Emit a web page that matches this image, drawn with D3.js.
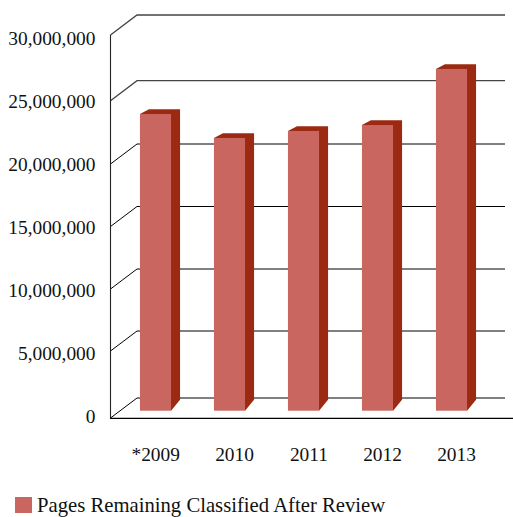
<!DOCTYPE html>
<html><head><meta charset="utf-8">
<script src="https://cdn.jsdelivr.net/npm/d3@7"></script>
<style>html,body{margin:0;padding:0;background:#fff}svg{display:block}text{font-family:"Liberation Serif",serif;fill:#111}</style>
</head><body><svg id="c" width="513" height="517"></svg>
<script>
const categories = ["*2009","2010","2011","2012","2013"];
const values = [23370000,21480000,22030000,22500000,26860000];
const yTicks = [0,5000000,10000000,15000000,20000000,25000000,30000000];
const seriesName = "Pages Remaining Classified After Review";

const svg = d3.select("#c");
const x = d3.scaleBand().domain(categories).range([118.5,488.5]).paddingInner(0.58).paddingOuter(0.29);
const y = d3.scaleLinear().domain(yTicks).range([418,351,289,226.5,164,100.7,35]);
const yLabel = d3.scaleLinear().domain([0,30000000]).range([423,44.5]);
const backDx = 26.5, backDy = 20, barLift = 7.3;
const fmt = d3.format(",");

const g = svg.append("g");
yTicks.forEach(t=>{
  const yf = y(t), yb = yf-backDy;
  g.append("path").attr("d",d3.line()([[110.5,yf],[110.5+backDx,yb],[505,yb]]))
    .attr("fill","none").attr("stroke",t>=25000000?"#444":"#000").attr("stroke-width",t>=25000000?1.3:1);
});
g.append("line").attr("x1",110.5).attr("x2",110.5).attr("y1",y(30000000)).attr("y2",y(0)).attr("stroke","#222").attr("stroke-width",1.1);
g.append("line").attr("x1",110).attr("x2",513).attr("y1",y(0)+0.4).attr("y2",y(0)+0.4).attr("stroke","#000").attr("stroke-width",1.2);

const bars = svg.append("g").selectAll("g").data(values).join("g");
const bx = i=>x(categories[i]), barW = x.bandwidth();
bars.append("path").attr("fill","#9c2a12").attr("d",(d,i)=>{
  const l=bx(i), r=l+barW, t=y(d)-barLift, b=y(0)-barLift;
  return d3.line()([[l,t],[l+9,t-4.7],[r+9,t-4.7],[r+9,b-11],[r,b]])+"Z";
});
bars.append("rect").attr("fill","#c96660")
  .attr("x",(d,i)=>bx(i)).attr("width",barW)
  .attr("y",d=>y(d)-barLift).attr("height",d=>y(0)-y(d));

svg.append("g").selectAll("text").data(yTicks).join("text")
  .attr("x",95.5).attr("y",t=>yLabel(t)).attr("text-anchor","end").attr("font-size",19.4).text(t=>fmt(t));
svg.append("g").selectAll("text").data(categories).join("text")
  .attr("x",c=>x(c)+40).attr("y",460.5).attr("text-anchor","end").attr("font-size",19.4).text(c=>c);

svg.append("rect").attr("x",15).attr("y",497).attr("width",17).attr("height",16).attr("fill","#c96660");
svg.append("text").attr("x",37).attr("y",512).attr("font-size",20.7).text(seriesName);
</script></body></html>
